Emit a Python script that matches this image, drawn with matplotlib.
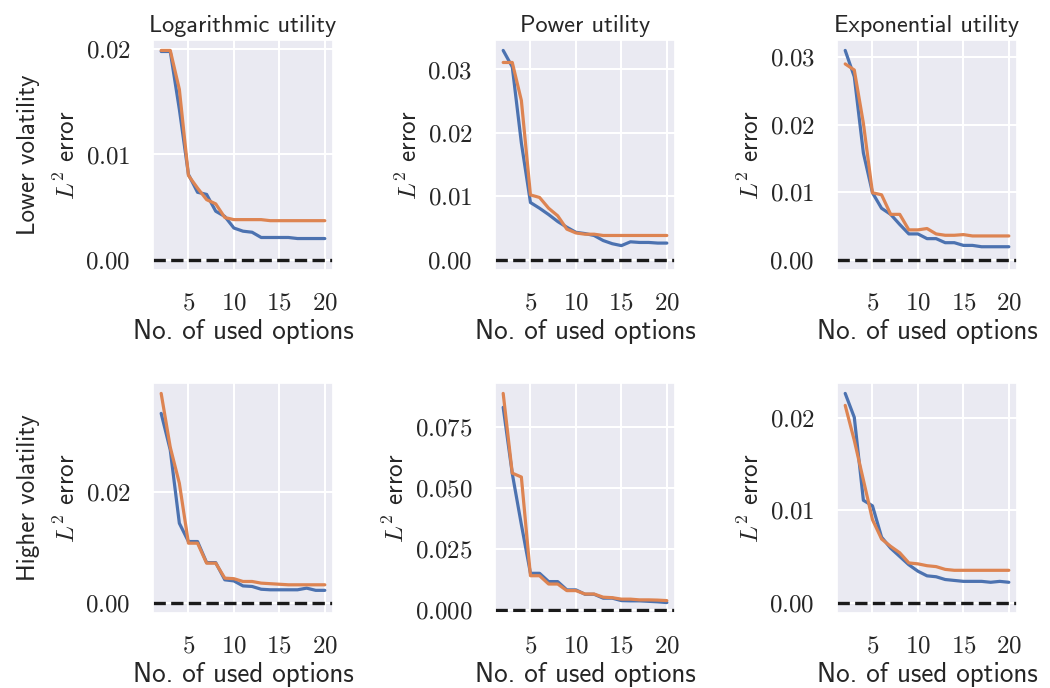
import matplotlib
matplotlib.use("Agg")
import matplotlib.pyplot as plt
import seaborn as sns

# Number of options used in the approximation
n_options = list(range(2, 21))

utilities = ["Logarithmic utility", "Power utility", "Exponential utility"]
regimes = ["Lower volatility", "Higher volatility"]

# L2 errors, lower-volatility regime
log_low_a = [0.0198, 0.0198, 0.0143, 0.0081, 0.0064, 0.0062, 0.0046, 0.0041, 0.0030, 0.0027,
             0.0026, 0.0021, 0.0021, 0.0021, 0.0021, 0.0020, 0.0020, 0.0020, 0.0020]
log_low_b = [0.0199, 0.0199, 0.0162, 0.0080, 0.0068, 0.0057, 0.0053, 0.0040, 0.0038, 0.0038,
             0.0038, 0.0038, 0.0037, 0.0037, 0.0037, 0.0037, 0.0037, 0.0037, 0.0037]
pow_low_a = [0.0330, 0.0304, 0.0184, 0.0090, 0.0081, 0.0071, 0.0060, 0.0051, 0.0043, 0.0041,
             0.0038, 0.0030, 0.0025, 0.0022, 0.0028, 0.0027, 0.0027, 0.0026, 0.0026]
pow_low_b = [0.0311, 0.0311, 0.0251, 0.0102, 0.0098, 0.0081, 0.0069, 0.0048, 0.0042, 0.0040,
             0.0040, 0.0038, 0.0038, 0.0038, 0.0038, 0.0038, 0.0038, 0.0038, 0.0038]
exp_low_a = [0.0310, 0.0271, 0.0158, 0.0099, 0.0076, 0.0067, 0.0052, 0.0038, 0.0038, 0.0031,
             0.0031, 0.0025, 0.0025, 0.0021, 0.0021, 0.0019, 0.0019, 0.0019, 0.0019]
exp_low_b = [0.0290, 0.0281, 0.0202, 0.0099, 0.0096, 0.0067, 0.0067, 0.0044, 0.0044, 0.0046,
             0.0038, 0.0036, 0.0036, 0.0037, 0.0035, 0.0035, 0.0035, 0.0035, 0.0035]

# L2 errors, higher-volatility regime
log_high_a = [0.0341, 0.0275, 0.0143, 0.0110, 0.0110, 0.0072, 0.0072, 0.0041, 0.0039, 0.0030,
              0.0029, 0.0024, 0.0023, 0.0023, 0.0023, 0.0023, 0.0026, 0.0022, 0.0022]
log_high_b = [0.0377, 0.0280, 0.0215, 0.0107, 0.0107, 0.0071, 0.0071, 0.0044, 0.0043, 0.0038,
              0.0038, 0.0035, 0.0034, 0.0033, 0.0032, 0.0032, 0.0032, 0.0032, 0.0032]
pow_high_a = [0.0831, 0.0559, 0.0350, 0.0150, 0.0150, 0.0116, 0.0116, 0.0082, 0.0082, 0.0064,
              0.0064, 0.0048, 0.0048, 0.0038, 0.0037, 0.0037, 0.0035, 0.0033, 0.0030]
pow_high_b = [0.0888, 0.0561, 0.0545, 0.0140, 0.0140, 0.0106, 0.0106, 0.0079, 0.0079, 0.0065,
              0.0065, 0.0052, 0.0050, 0.0044, 0.0044, 0.0041, 0.0041, 0.0040, 0.0038]
exp_high_a = [0.0227, 0.0201, 0.0111, 0.0105, 0.0071, 0.0059, 0.0050, 0.0041, 0.0034, 0.0029,
              0.0028, 0.0025, 0.0024, 0.0023, 0.0023, 0.0023, 0.0022, 0.0023, 0.0022]
exp_high_b = [0.0214, 0.0176, 0.0133, 0.0090, 0.0069, 0.0061, 0.0054, 0.0043, 0.0042, 0.0040,
              0.0039, 0.0036, 0.0035, 0.0035, 0.0035, 0.0035, 0.0035, 0.0035, 0.0035]

series = [
    [(log_low_a, log_low_b), (pow_low_a, pow_low_b), (exp_low_a, exp_low_b)],
    [(log_high_a, log_high_b), (pow_high_a, pow_high_b), (exp_high_a, exp_high_b)],
]

x_ticks = [5, 10, 15, 20]
y_ticks = [
    [[0.00, 0.01, 0.02], [0.00, 0.01, 0.02, 0.03], [0.00, 0.01, 0.02, 0.03]],
    [[0.00, 0.02], [0.000, 0.025, 0.050, 0.075], [0.00, 0.01, 0.02]],
]

sns.set_theme(style="darkgrid")
plt.rcParams.update({
    "font.family": ["cmss10", "DejaVu Sans"],
    "mathtext.fontset": "cm",
    "axes.formatter.use_mathtext": True,
    "font.size": 18,
    "axes.titlesize": 17.5,
    "axes.labelsize": 19.5,
    "xtick.labelsize": 18,
    "ytick.labelsize": 18,
    "grid.linewidth": 1.5,
})

colors = sns.color_palette("deep")

fig, axes = plt.subplots(2, 3, figsize=(10.5, 6.88), dpi=100)
fig.subplots_adjust(left=0.1457, right=0.9686, bottom=0.109, top=0.9419,
                    wspace=0.9, hspace=0.491)

for r in range(2):
    for c in range(3):
        ax = axes[r, c]
        a, b = series[r][c]
        ax.plot(n_options, a, color=colors[0], lw=2.3)
        ax.plot(n_options, b, color=colors[1], lw=2.3)
        ax.axhline(0, color="k", ls="--", lw=2.4)
        ax.set_xticks(x_ticks)
        ax.set_yticks(y_ticks[r][c])
        ax.tick_params(axis="both", pad=16, length=0)
        for lbl in ax.get_xticklabels() + ax.get_yticklabels():
            lbl.set_fontfamily("cmr10")
        ax.set_xlabel("No. of used options", labelpad=3)
        if c == 0:
            ax.set_ylabel(regimes[r] + "\n" + r"$L^2$ error", linespacing=1.7,
                          fontsize=18)
        else:
            ax.set_ylabel(r"$L^2$ error", fontsize=18)
        if r == 0:
            ax.set_title(utilities[c])

fig.savefig("out.png", dpi=100)
